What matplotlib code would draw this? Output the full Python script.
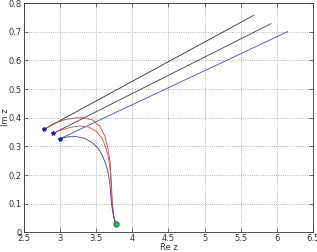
import numpy as np
import matplotlib.pyplot as plt

# puntos iniciales (estrellas) y extremos de las rectas
x_ini = [2.78, 2.90, 3.00]
y_ini = [0.360, 0.345, 0.327]
x_fin = [5.68, 5.92, 6.15]
y_fin = [0.757, 0.728, 0.700]
colores_rectas = ['#2a2a3a', '#3a3a4a', '#4a4a9a']

# trayectorias curvas hasta el punto final
curva1_x = [2.78, 2.90, 3.05, 3.20, 3.32, 3.45, 3.55, 3.62, 3.66, 3.69, 3.70, 3.71, 3.72, 3.74, 3.77]
curva1_y = [0.360, 0.378, 0.392, 0.399, 0.400, 0.392, 0.370, 0.335, 0.295, 0.250, 0.210, 0.170, 0.110, 0.060, 0.028]
curva2_x = [2.90, 3.02, 3.15, 3.28, 3.40, 3.50, 3.58, 3.63, 3.67, 3.69, 3.70, 3.71, 3.72, 3.74, 3.77]
curva2_y = [0.345, 0.357, 0.367, 0.371, 0.367, 0.352, 0.328, 0.297, 0.260, 0.220, 0.185, 0.150, 0.100, 0.058, 0.028]
curva3_x = [3.00, 3.10, 3.22, 3.34, 3.45, 3.53, 3.59, 3.64, 3.67, 3.69, 3.70, 3.71, 3.73, 3.75, 3.77]
curva3_y = [0.327, 0.333, 0.334, 0.328, 0.312, 0.292, 0.265, 0.232, 0.200, 0.165, 0.135, 0.100, 0.068, 0.042, 0.028]
colores_curvas = ['#d04040', '#c85050', '#404090']

x_final = [3.77]
y_final = [0.028]

fig = plt.figure(figsize=(3.17, 2.52), dpi=100)
ax = fig.add_axes([0.076, 0.078, 0.911, 0.910])

for i in range(3):
    ax.plot([x_ini[i], x_fin[i]], [y_ini[i], y_fin[i]], color=colores_rectas[i], linewidth=0.6)

for cx, cy, c in zip([curva1_x, curva2_x, curva3_x], [curva1_y, curva2_y, curva3_y], colores_curvas):
    ax.plot(cx, cy, color=c, linewidth=0.6)

ax.plot(x_ini, y_ini, linestyle='none', marker='*', color='#2020a0', markersize=3)
ax.plot(x_final, y_final, linestyle='none', marker='o', markerfacecolor='#40b070',
        markeredgecolor='#208050', markersize=3.5)

ax.set_xlim(2.5, 6.5)
ax.set_ylim(0, 0.8)
ax.set_xticks(np.arange(2.5, 6.51, 0.5))
ax.set_xticklabels(['2.5', '3', '3.5', '4', '4.5', '5', '5.5', '6', '6.5'])
ax.set_yticks(np.arange(0, 0.81, 0.1))
ax.set_yticklabels(['0', '0.1', '0.2', '0.3', '0.4', '0.5', '0.6', '0.7', '0.8'])
ax.tick_params(direction='in', length=3, width=0.5, labelsize=6, colors='#333333',
               top=True, right=True, pad=1.5)
ax.grid(True, linestyle=':', color='#999999', linewidth=0.6)
for s in ax.spines.values():
    s.set_linewidth(0.6)
    s.set_color('#333333')

ax.set_xlabel('Re z', fontsize=6, color='#333333', labelpad=0)
ax.set_ylabel('Im z', fontsize=6, color='#333333', labelpad=-1)

fig.savefig('out.png', dpi=100)
